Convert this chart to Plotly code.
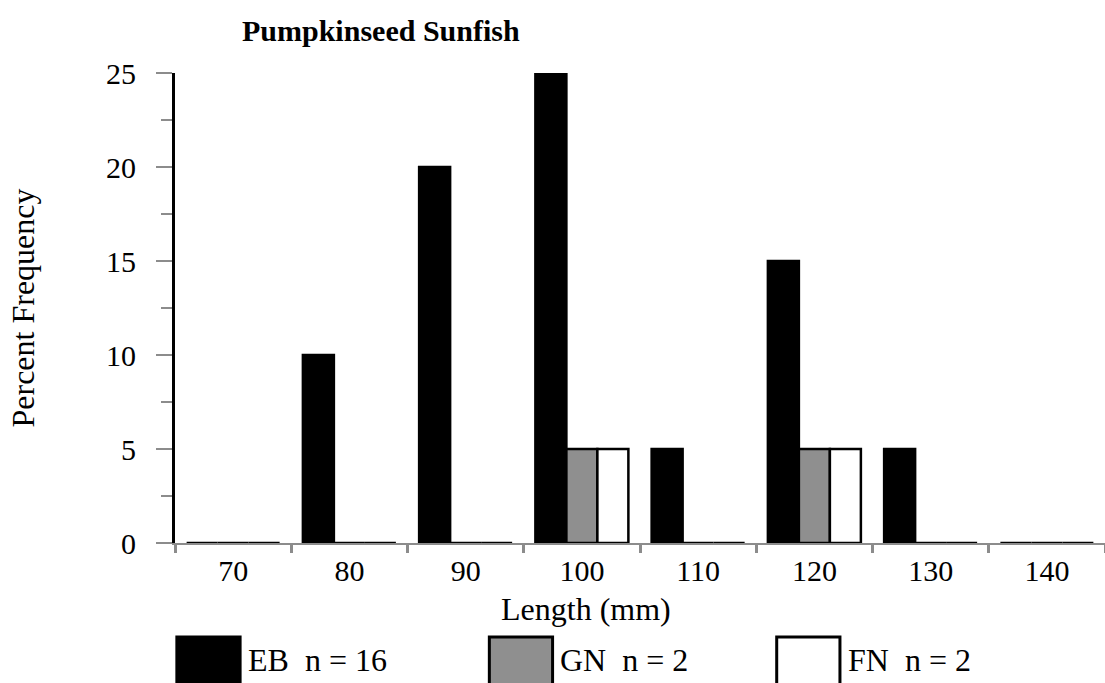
import plotly.graph_objects as go

# length classes (mm) and percent frequency per gear
lengths = ["70", "80", "90", "100", "110", "120", "130", "140"]
eb_pct = [0, 10, 20, 25, 5, 15, 5, 0]
gn_pct = [0, 0, 0, 5, 0, 5, 0, 0]
fn_pct = [0, 0, 0, 5, 0, 5, 0, 0]

series = [
    ("EB  n = 16", eb_pct, "black"),
    ("GN  n = 2", gn_pct, "#8f8f8f"),
    ("FN  n = 2", fn_pct, "white"),
]

FONT = "Liberation Serif, Times New Roman, serif"

fig = go.Figure()
for name, vals, color in series:
    fig.add_trace(go.Bar(
        x=lengths, y=vals, name=name,
        marker=dict(color=color, line=dict(color="black", width=2.5)),
        showlegend=False,
    ))

fig.update_layout(
    width=1105, height=683,
    margin=dict(l=175, r=0, t=73, b=140, autoexpand=False),
    paper_bgcolor="white", plot_bgcolor="white",
    barmode="group", bargap=0.2, bargroupgap=0,
    font=dict(family=FONT, size=30, color="black"),
)

fig.update_xaxes(
    type="category", tickson="boundaries",
    showline=True, linecolor="#8c8c8c", linewidth=2,
    ticks="outside", tickcolor="#8c8c8c", ticklen=8, tickwidth=3,
    showgrid=False, zeroline=False,
    tickfont=dict(size=30),
)
fig.update_yaxes(
    range=[0, 25], tickvals=[0, 5, 10, 15, 20, 25],
    showline=True, linecolor="black", linewidth=3,
    ticks="outside", tickcolor="#8c8c8c", ticklen=16, tickwidth=2,
    minor=dict(dtick=2.5, ticks="outside", ticklen=11, tickcolor="#8c8c8c", tickwidth=2),
    showgrid=False, zeroline=False,
    ticklabelstandoff=14,
    tickfont=dict(size=30),
    title=dict(text="Percent Frequency", font=dict(size=32), standoff=62),
)

fig.add_annotation(
    text="<b>Pumpkinseed Sunfish</b>", xref="paper", yref="paper",
    x=0.221, y=1.0, yshift=43, showarrow=False,
    font=dict(size=30, family=FONT), xanchor="center", yanchor="middle",
)
fig.add_annotation(
    text="Length (mm)", xref="paper", yref="paper",
    x=0.442, y=-0.140, showarrow=False,
    font=dict(size=32, family=FONT), xanchor="center", yanchor="middle",
)

# custom legend below the axis (large swatches)
legend_x = [0.002, 0.338, 0.647]
for (name, vals, color), lx in zip(series, legend_x):
    fig.add_shape(
        type="rect", xref="paper", yref="paper",
        x0=lx, x1=lx + 0.068, y0=-0.33, y1=-0.20,
        fillcolor=color, line=dict(color="black", width=3),
    )
    fig.add_annotation(
        text=name, xref="paper", yref="paper",
        x=lx + 0.074, y=-0.249, showarrow=False,
        xanchor="left", yanchor="middle", font=dict(size=32, family=FONT),
    )

fig.write_html(
    "out.html",
    config={"displayModeBar": False},
    post_script="document.body.style.margin='0';document.body.style.overflow='hidden';",
)
